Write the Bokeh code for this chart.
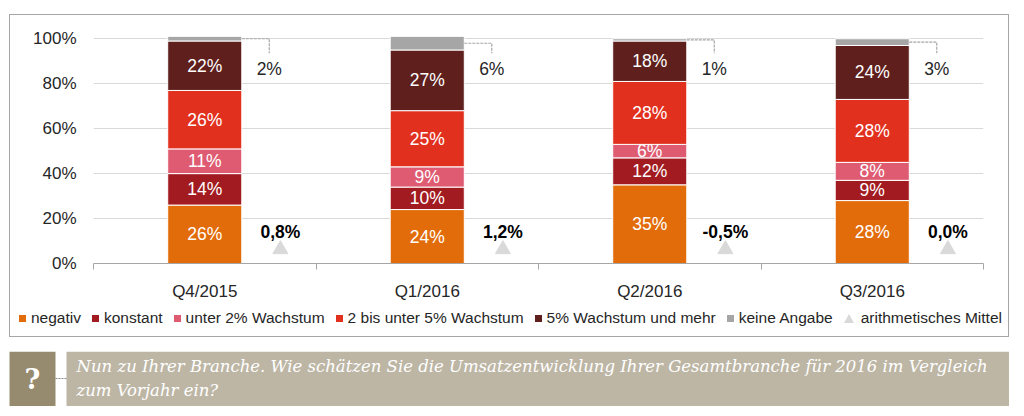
from bokeh.plotting import figure
from bokeh.models import (ColumnDataSource, Range1d, FixedTicker, Spacer, Div)
from bokeh.layouts import column, row
from bokeh.embed import file_html
from bokeh.resources import INLINE
from bokeh.core.properties import value

# ---------------- data ----------------
categories = ["Q4/2015", "Q1/2016", "Q2/2016", "Q3/2016"]
negativ = [26, 24, 35, 28]
konstant = [14, 10, 12, 9]
unter_2 = [11, 9, 6, 8]
bis_unter_5 = [26, 25, 28, 28]
ab_5 = [22, 27, 18, 24]
keine_angabe = [2, 6, 1, 3]
mittel_labels = ["0,8%", "1,2%", "-0,5%", "0,0%"]
series_names = ["negativ", "konstant", "unter 2% Wachstum", "2 bis unter 5% Wachstum",
                "5% Wachstum und mehr", "keine Angabe"]
mean_name = "arithmetisches Mittel"
y_ticks = [0, 20, 40, 60, 80, 100]
y_tick_labels = ["0%", "20%", "40%", "60%", "80%", "100%"]
question = ["Nun zu Ihrer Branche. Wie schätzen Sie die Umsatzentwicklung Ihrer Gesamtbranche für 2016 im Vergleich",
            "zum Vorjahr ein?"]

# ---------------- style ----------------
colors = ["#E36C0A", "#A21B20", "#DE5B72", "#E2301F", "#5E1F1D", "#A6A6A6"]
TRI = "#D9D9D9"
FONT = "Liberation Sans"
TXT = "#262626"
BAR_W = 0.333
MEAN_DX = 0.34
MEAN_MARK_Y = 6.3
MEAN_LABEL_Y = 13.8
KA_DX = 0.29
KA_LABEL_Y = 86.5

series = [negativ, konstant, unter_2, bis_unter_5, ab_5, keine_angabe]
keys = ["s%d" % i for i in range(len(series))]
xs = [i + 0.5 for i in range(len(categories))]

data = {"x": xs}
for k, s in zip(keys, series):
    data[k] = s
src = ColumnDataSource(data)

p = figure(width=998, height=292, x_range=Range1d(0, len(categories)), y_range=Range1d(0, 101),
           output_backend="svg", toolbar_location=None,
           min_border_left=83, min_border_right=25, min_border_top=21, min_border_bottom=44)
p.outline_line_color = None
p.background_fill_color = "white"
p.border_fill_color = "white"

bars = p.vbar_stack(keys, x="x", width=BAR_W, source=src, fill_color=colors,
                    line_color="white", line_width=1)

# labels inside segments
lx, ly, lt = [], [], []
for i in range(len(categories)):
    base = 0
    for s in series[:-1]:
        v = s[i]
        lx.append(xs[i]); ly.append(base + v / 2); lt.append("%d%%" % v)
        base += v
p.text(x=lx, y=ly, text=lt, text_color="white", text_align="center", text_baseline="middle",
       text_font=value(FONT), text_font_size="17.5px")

# keine Angabe labels with connector
cx, cy, kx, ky, kt = [], [], [], [], []
for i in range(len(categories)):
    base = sum(s[i] for s in series[:-1])
    mid = base + keine_angabe[i] / 2
    x0 = xs[i] + BAR_W / 2
    x1 = xs[i] + KA_DX
    cx.append([x0, x1, x1]); cy.append([mid, mid, KA_LABEL_Y + 7])
    kx.append(x1); ky.append(KA_LABEL_Y); kt.append("%d%%" % keine_angabe[i])
p.multi_line(xs=cx, ys=cy, line_color="#A6A6A6", line_dash="3 1", line_width=1.2)
p.text(x=kx, y=ky, text=kt, text_color=TXT, text_align="center", text_baseline="middle",
       text_font=value(FONT), text_font_size="17.5px")

# arithmetic mean
mx = [x + MEAN_DX for x in xs]
p.scatter(x=mx, y=[MEAN_MARK_Y] * len(mx), marker="triangle", size=15,
          fill_color=TRI, line_color=TRI)
p.text(x=mx, y=[MEAN_LABEL_Y] * len(mx), text=mittel_labels, text_color="black",
       text_align="center", text_baseline="middle", text_font=value(FONT),
       text_font_size="17.5px", text_font_style="bold")

# axes
p.yaxis.ticker = FixedTicker(ticks=y_ticks)
p.yaxis.major_label_overrides = {t: l for t, l in zip(y_ticks, y_tick_labels)}
p.yaxis.axis_line_color = None
p.yaxis.major_tick_line_color = None
p.yaxis.minor_tick_line_color = None
p.yaxis.major_label_standoff = 11
p.yaxis.major_label_text_font = FONT
p.yaxis.major_label_text_font_size = "17px"
p.yaxis.major_label_text_color = TXT

p.xaxis.ticker = FixedTicker(ticks=xs, minor_ticks=list(range(len(categories) + 1)))
p.xaxis.major_label_overrides = {x: c for x, c in zip(xs, categories)}
p.xaxis.axis_line_color = "#A6A6A6"
p.xaxis.major_tick_line_color = None
p.xaxis.minor_tick_line_color = "#A6A6A6"
p.xaxis.minor_tick_in = 0
p.xaxis.minor_tick_out = 6
p.xaxis.major_label_standoff = 12
p.xaxis.major_label_text_font = FONT
p.xaxis.major_label_text_font_size = "17px"
p.xaxis.major_label_text_color = TXT

p.xgrid.grid_line_color = None
p.ygrid.ticker = FixedTicker(ticks=y_ticks)
p.ygrid.grid_line_color = "#D9D9D9"

# ---------------- legend strip ----------------
parts = []
for name, c in zip(series_names, colors):
    parts.append(
        '<span style="display:inline-flex;align-items:center;margin-right:11px">'
        '<span style="display:inline-block;width:7px;height:7px;background:%s;margin-right:5px"></span>%s</span>'
        % (c, name))
parts.append(
    '<span style="display:inline-flex;align-items:center">'
    '<span style="display:inline-block;width:0;height:0;border-left:5px solid transparent;'
    'border-right:5px solid transparent;border-bottom:9px solid %s;margin-right:7px"></span>%s</span>'
    % (TRI, mean_name))
legend_html = ('<div style="display:flex;align-items:center;height:22px;padding-left:9px;'
               'white-space:nowrap;font-family:\'Liberation Sans\',Arial,sans-serif;'
               'font-size:15.5px;color:%s">%s</div>' % (TXT, "".join(parts)))
lg = Div(text=legend_html, width=998, height=29, margin=0)

box = column(p, lg, spacing=0)
box.styles = {"border": "1px solid #A6A6A6", "background-color": "white"}

# ---------------- question box ----------------
q = figure(width=1001, height=55, x_range=Range1d(0, 1001), y_range=Range1d(0, 55),
           output_backend="svg", toolbar_location=None, x_axis_type=None, y_axis_type=None,
           min_border=0)
q.outline_line_color = None
q.grid.visible = False
q.quad(left=[1], right=[47], bottom=[0], top=[55], fill_color="#978B6F", line_color=None)
q.quad(left=[58], right=[1001], bottom=[0], top=[55], fill_color="#BDB6A5", line_color=None)
q.line(x=[47, 58], y=[28, 28], line_color="#8A8A8A", line_dash="2 1", line_width=1)
q.text(x=[24], y=[27], text=["?"], text_color="white", text_align="center", text_baseline="middle",
       text_font=value("DejaVu Serif"), text_font_style="bold", text_font_size="27px")
q.text(x=[68, 68], y=[40, 16], text=question, text_color="white", text_align="left",
       text_baseline="middle", text_font=value("DejaVu Serif"), text_font_style="italic",
       text_font_size="16.5px")

layout = column(Spacer(height=14), row(Spacer(width=9), box), Spacer(height=14),
                row(Spacer(width=8), q), spacing=0)
open("out.html", "w").write(file_html(layout, INLINE))
